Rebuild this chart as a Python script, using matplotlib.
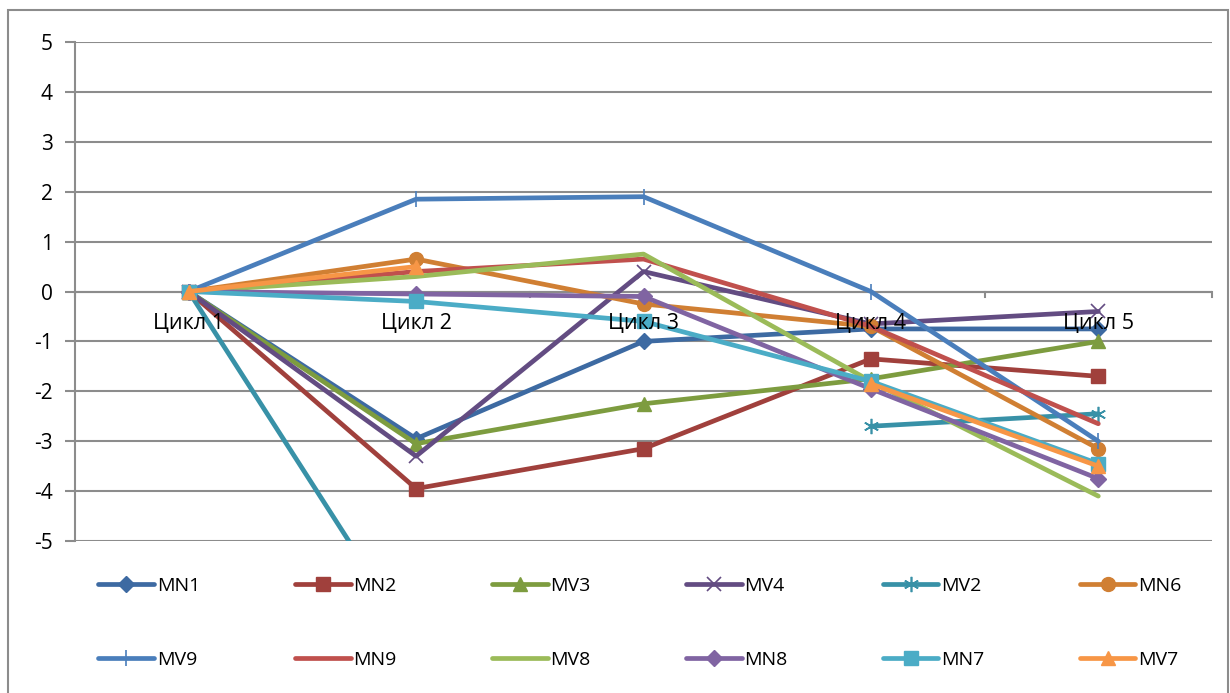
import numpy as np
import matplotlib
matplotlib.use("Agg")
import matplotlib.pyplot as plt
from matplotlib.patches import Rectangle

plt.rcParams['font.family'] = ['Open Sans', 'DejaVu Sans']
plt.rcParams['axes.unicode_minus'] = False

# Cycles and per-series values (NaN = no measurement)
cycles = ["Цикл 1", "Цикл 2", "Цикл 3", "Цикл 4", "Цикл 5"]

MN1 = [0, -2.95, -1.0, -0.75, -0.75]
MN2 = [0, -3.95, -3.15, -1.35, -1.7]
MV3 = [0, -3.05, -2.25, -1.75, -1.0]
MV4 = [0, -3.3, 0.4, -0.65, -0.4]
MV2 = [0, -7.1, np.nan, -2.7, -2.45]
MN6 = [0, 0.65, -0.25, -0.7, -3.15]
MV9 = [0, 1.85, 1.9, 0.0, -3.0]
MN9 = [0, 0.4, 0.65, -0.7, -2.65]
MV8 = [0, 0.3, 0.75, -1.8, -4.1]
MN8 = [0, -0.05, -0.1, -1.95, -3.75]
MN7 = [0, -0.2, -0.6, -1.8, -3.45]
MV7 = [0, 0.5, np.nan, -1.85, -3.5]

series_names = ["MN1", "MN2", "MV3", "MV4", "MV2", "MN6",
                "MV9", "MN9", "MV8", "MN8", "MN7", "MV7"]
series_values = [MN1, MN2, MV3, MV4, MV2, MN6, MV9, MN9, MV8, MN8, MN7, MV7]

styles = {
    "MN1": dict(color="#3D6AA2", marker="D", ms=8.5, mew=1),
    "MN2": dict(color="#A0403C", marker="s", ms=10, mew=1),
    "MV3": dict(color="#7D9C3F", marker="^", ms=10.5, mew=1),
    "MV4": dict(color="#634C82", marker="x", ms=10, mew=1.2),
    "MV2": dict(color="#3891A7", marker=(6, 2, 0), ms=11, mew=1.2),
    "MN6": dict(color="#D07F33", marker="o", ms=10, mew=1),
    "MV9": dict(color="#4A7EBB", marker="|", ms=11, mew=1.2),
    "MN9": dict(color="#C0504D", marker="None", ms=0, mew=0),
    "MV8": dict(color="#9BBB59", marker="None", ms=0, mew=0),
    "MN8": dict(color="#8064A2", marker="D", ms=8.5, mew=1),
    "MN7": dict(color="#4BACC6", marker="s", ms=10, mew=1),
    "MV7": dict(color="#F79646", marker="^", ms=10.5, mew=1),
}

fig = plt.figure(figsize=(12.3, 6.93), dpi=100)
ax = fig.add_axes([75 / 1230, 1 - 541 / 693, (1212 - 75) / 1230, (541 - 42) / 693])

x = np.arange(len(cycles))
handles = []
for name, vals in zip(series_names, series_values):
    st = styles[name]
    h, = ax.plot(x, vals, color=st["color"], lw=3.4, marker=st["marker"],
                 ms=st["ms"], mew=st["mew"], mfc=st["color"], mec=st["color"],
                 solid_capstyle="round", solid_joinstyle="round", label=name)
    handles.append(h)

ax.set_xlim(-0.5, len(cycles) - 0.5)
ax.set_ylim(-5, 5)
ax.set_yticks(np.arange(-5, 6, 1))
ax.yaxis.grid(True, color="#8C8C8C", lw=1.5)
ax.set_axisbelow(True)
ax.tick_params(axis="y", length=7, width=1.5, color="#8C8C8C", labelsize=15,
               pad=9, labelcolor="#000000")
ax.tick_params(axis="x", bottom=False, labelbottom=False)
for side in ["top", "right", "bottom"]:
    ax.spines[side].set_visible(False)
ax.spines["left"].set_color("#8C8C8C")
ax.spines["left"].set_linewidth(1.5)

# category axis crossing at zero, with tick marks on the bin boundaries
ax.axhline(0, color="#8C8C8C", lw=1.5, zorder=0.5)
for b in np.arange(-0.5, len(cycles), 1.0):
    ax.plot([b, b], [0, -0.12], color="#8C8C8C", lw=1.5, zorder=0.5, clip_on=False)
for xi, lab in zip(x, cycles):
    ax.text(xi, -0.65, lab, ha="center", va="center", fontsize=15.5, color="#000000",
            zorder=5)

# legend laid out row by row: 2 rows x 6 columns
nrows, ncols = 2, 6
order = [r * ncols + c for c in range(ncols) for r in range(nrows)]
leg = fig.legend(handles=[handles[i] for i in order], loc="center", ncol=ncols,
                 bbox_to_anchor=(0.5 + 25 / 1230, 1 - 623 / 693), frameon=False,
                 fontsize=14, handlelength=2.85, handletextpad=0.15,
                 columnspacing=4.9, labelspacing=2.9)

# outer chart frame
fig.patches.append(Rectangle((8 / 1230, -0.05), (1228 - 8) / 1230, 1.05 - 10 / 693,
                             transform=fig.transFigure, fill=False,
                             edgecolor="#8C8C8C", lw=1.5))

fig.savefig("out.png", dpi=100)
